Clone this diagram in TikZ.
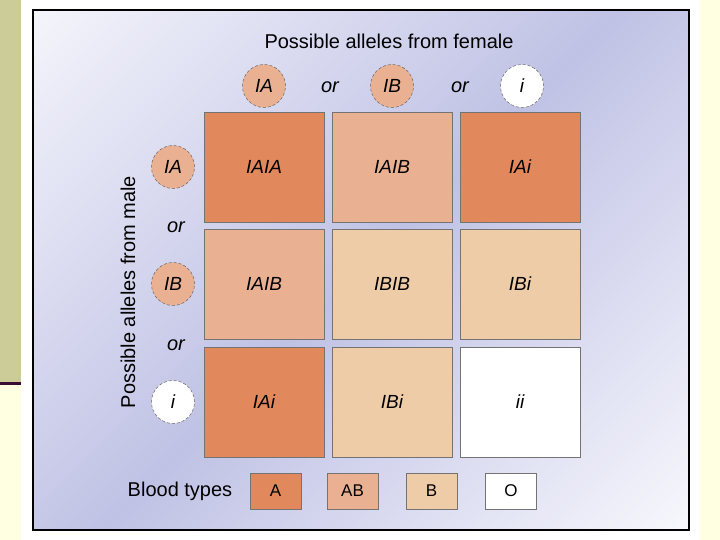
\documentclass[tikz,border=0pt]{standalone}
\usepackage{fontspec}
\setmainfont{Liberation Sans}
\definecolor{typeA}{RGB}{225,136,92}
\definecolor{typeAB}{RGB}{233,177,146}
\definecolor{typeB}{RGB}{239,204,168}
\definecolor{paneldark}{RGB}{192,194,229}
\definecolor{panellight}{RGB}{248,248,253}
\definecolor{olive}{RGB}{204,204,153}
\definecolor{paleyellow}{RGB}{255,255,225}
\definecolor{plum}{RGB}{60,12,50}
\pgfdeclareverticalshading{panelshade}{100bp}{color(0bp)=(panellight); color(14bp)=(panellight); color(50bp)=(paneldark); color(88bp)=(panellight); color(100bp)=(panellight)}
\begin{document}
\begin{tikzpicture}[x=1pt,y=1pt,
    cell/.style={draw=black!55, line width=0.7pt, minimum width=120pt, minimum height=110pt, inner sep=0pt, font=\fontsize{19}{19}\selectfont\itshape},
    allele/.style={circle, draw=black!60, densely dashed, line width=0.5pt, minimum size=43pt, inner sep=0pt, font=\fontsize{19}{19}\selectfont\itshape},
    orword/.style={font=\fontsize{20}{20}\selectfont\itshape},
    keybox/.style={draw=black!55, line width=0.7pt, minimum width=51pt, minimum height=36pt, inner sep=0pt, font=\fontsize{17}{17}\selectfont},
    heading/.style={font=\fontsize{20}{20}\selectfont}]
                \useasboundingbox (0,0) rectangle (720,540);
                % slide frame
                \fill[olive] (0,158) rectangle (21,540);
                \fill[plum] (0,155) rectangle (21,158);
                \fill[paleyellow] (0,0) rectangle (21,155);
                \fill[paleyellow] (700,0) rectangle (720,540);
                \shade[shading=panelshade, shading angle=45] (33,10) rectangle (689,530);
                \draw[line width=2pt, black] (33,10) rectangle (689,530);
                % alleles from female
                \node[heading] (female) at (389,499) {Possible alleles from female};
                \node[allele, fill=typeAB] (fA) at (264,454) {IA};
                \node[orword] (for1) at (330,453) {or};
                \node[allele, fill=typeAB] (fB) at (392,454) {IB};
                \node[orword] (for2) at (460,453) {or};
                \node[allele, fill=white] (fi) at (522,454) {i};
                % alleles from male
                \node[heading, rotate=90] (male) at (128,248) {Possible alleles from male};
                \node[allele, fill=typeAB] (mA) at (173,373) {IA};
                \node[orword] (mor1) at (176,313) {or};
                \node[allele, fill=typeAB] (mB) at (173,256) {IB};
                \node[orword] (mor2) at (176,195) {or};
                \node[allele, fill=white] (mi) at (173,138) {i};
                % offspring genotypes
                \node[cell, fill=typeA] (cAA) at (264,373) {IAIA};
                \node[cell, fill=typeAB] (cAB) at (392,373) {IAIB};
                \node[cell, fill=typeA] (cAi) at (520,373) {IAi};
                \node[cell, fill=typeAB] (cBA) at (264,256) {IAIB};
                \node[cell, fill=typeB] (cBB) at (392,256) {IBIB};
                \node[cell, fill=typeB] (cBi) at (520,256) {IBi};
                \node[cell, fill=typeA] (ciA) at (264,138) {IAi};
                \node[cell, fill=typeB] (ciB) at (392,138) {IBi};
                \node[cell, fill=white] (cii) at (520,138) {ii};
                % key
                \node[heading] (key) at (180,49) {Blood types};
                \node[keybox, fill=typeA] (kA) at (275.5,49) {A};
                \node[keybox, fill=typeAB] (kAB) at (352.5,49) {AB};
                \node[keybox, fill=typeB] (kB) at (431.5,49) {B};
                \node[keybox, fill=white] (kO) at (511,49) {O};
            \end{tikzpicture}
\end{document}
